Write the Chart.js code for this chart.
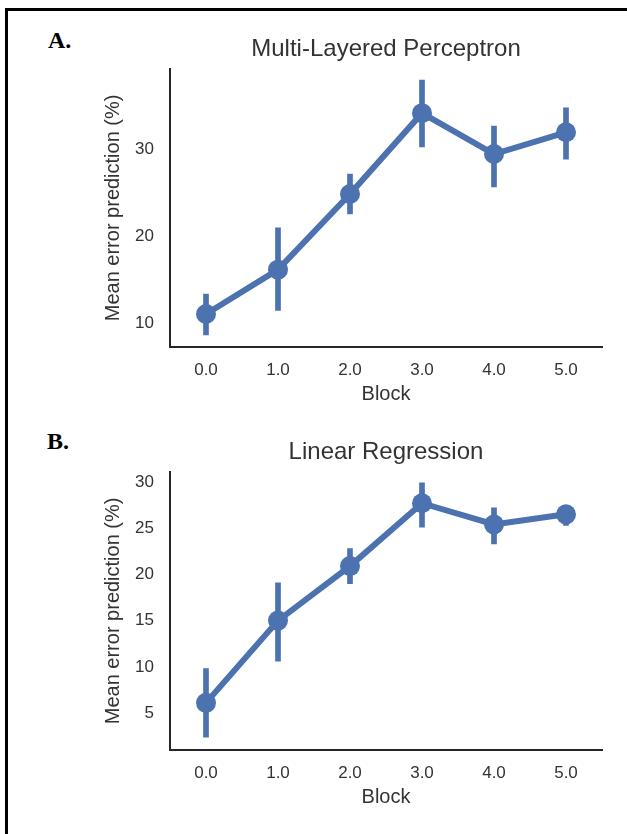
<!DOCTYPE html>
<html>
<head>
<meta charset="utf-8">
<script src="https://cdn.jsdelivr.net/npm/chart.js@4.4.1/dist/chart.umd.min.js"></script>
<style>
  body { margin: 0; background: #fff; width: 627px; height: 834px; overflow: hidden; position: relative; }
  .frame { position: absolute; left: 5px; top: 8px; width: 700px; height: 900px; border-top: 3px solid #000; border-left: 3px solid #000; }
  .panel { position: absolute; font-family: "Liberation Serif", "Times New Roman", serif; font-weight: bold; font-size: 24px; color: #000; }
  canvas { position: absolute; }
</style>
</head>
<body>
<div class="frame"></div>
<div class="panel" style="left:48px; top:27px;">A.</div>
<div class="panel" style="left:47px; top:428px;">B.</div>
<canvas id="chartA" width="530" height="390" style="left:90px; top:25px;"></canvas>
<canvas id="chartB" width="530" height="390" style="left:90px; top:428px;"></canvas>
<script>
const blocks = ['0.0', '1.0', '2.0', '3.0', '4.0', '5.0'];

const mlpMean = [11.1, 16.2, 24.9, 34.2, 29.5, 32.0];
const mlpLow = [8.7, 11.5, 22.6, 30.3, 25.7, 28.9];
const mlpHigh = [13.4, 21.0, 27.2, 38.0, 32.7, 34.8];

const lrMean = [6.1, 15.0, 20.9, 27.7, 25.4, 26.5];
const lrLow = [2.4, 10.6, 19.0, 25.1, 23.3, 25.3];
const lrHigh = [9.8, 19.1, 22.8, 29.9, 27.2, 27.3];

const blue = '#4C72B0';
const ink = '#333333';
const font = 'Liberation Sans, Arial, sans-serif';

function makeChart(id, title, mean, low, high, yMin, yMax, step) {
    const ctx = document.getElementById(id).getContext('2d');
    return new Chart(ctx, {
        type: 'line',
        data: {
            labels: blocks,
            datasets: [{
                type: 'line',
                data: mean,
                borderColor: blue,
                backgroundColor: blue,
                borderWidth: 6,
                pointRadius: 10,
                pointBorderWidth: 0,
                pointBackgroundColor: blue,
                tension: 0,
                order: 0
            }, {
                type: 'bar',
                data: low.map((v, i) => [v, high[i]]),
                backgroundColor: blue,
                barThickness: 5,
                order: 1
            }]
        },
        options: {
            responsive: false,
            animation: false,
            layout: { padding: { right: 18 } },
            plugins: {
                legend: { display: false },
                tooltip: { enabled: false },
                title: {
                    display: true,
                    text: title,
                    fullSize: false,
                    color: ink,
                    font: { family: font, size: 24, weight: 'normal' },
                    padding: { top: 10, bottom: 5 }
                }
            },
            scales: {
                x: {
                    type: 'category',
                    offset: true,
                    grid: { display: false },
                    border: { display: true, color: '#262626', width: 2 },
                    ticks: { color: ink, font: { family: font, size: 17 }, padding: 5, maxRotation: 0 },
                    title: {
                        display: true,
                        text: 'Block',
                        color: ink,
                        font: { family: font, size: 20 },
                        padding: { top: 4, bottom: 9 }
                    },
                    afterFit: s => { s.height = 68; }
                },
                y: {
                    min: yMin,
                    max: yMax,
                    grid: { display: false },
                    border: { display: true, color: '#262626', width: 2 },
                    ticks: { stepSize: step, includeBounds: false, color: ink, font: { family: font, size: 17 }, padding: 8 },
                    title: {
                        display: true,
                        text: 'Mean error prediction (%)',
                        color: ink,
                        font: { family: font, size: 20 },
                        padding: { top: 11, bottom: 0 }
                    },
                    afterFit: s => { s.width = 80; }
                }
            }
        }
    });
}

makeChart('chartA', 'Multi-Layered Perceptron', mlpMean, mlpLow, mlpHigh, 7.3, 39.3, 10);
makeChart('chartB', 'Linear Regression', lrMean, lrLow, lrHigh, 1, 31.1, 5);
</script>
</body>
</html>
